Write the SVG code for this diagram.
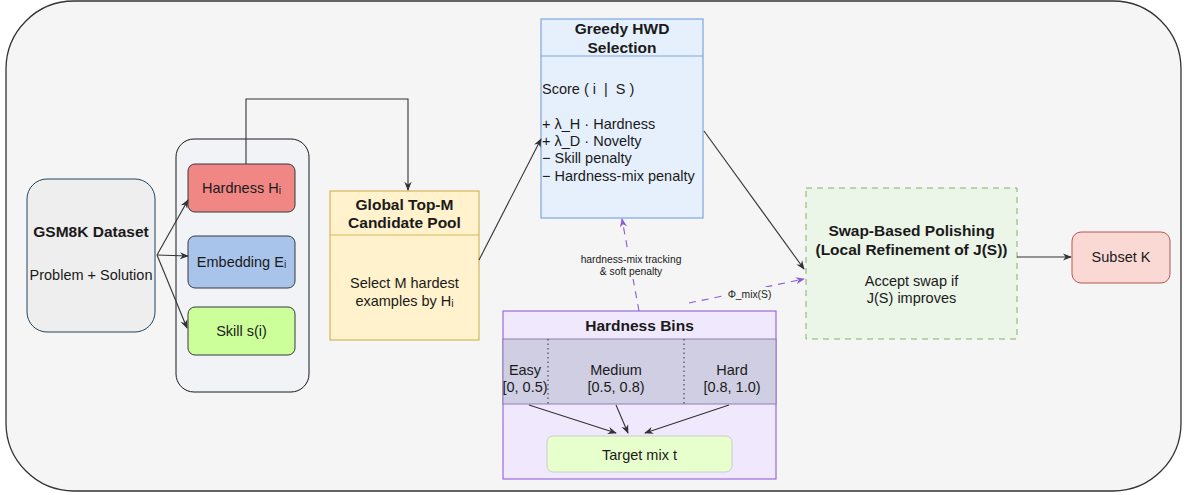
<svg xmlns="http://www.w3.org/2000/svg" width="1190" height="495" viewBox="0 0 1190 495">
<defs>
<marker id="ah" viewBox="0 0 10 10" refX="9" refY="5" markerWidth="9" markerHeight="9" markerUnits="userSpaceOnUse" orient="auto">
<path d="M0,1 L10,5 L0,9 L3,5 Z" fill="#333"/>
</marker>
<marker id="ahp" viewBox="0 0 10 10" refX="9" refY="5" markerWidth="9" markerHeight="9" markerUnits="userSpaceOnUse" orient="auto">
<path d="M0,1 L10,5 L0,9 L3,5 Z" fill="#8a5cd8"/>
</marker>
<style>
text{font-family:"Liberation Sans",Arial,sans-serif;fill:#1a1a1a;dominant-baseline:central}
.t13{font-size:14.5px}
.b14{font-size:15.5px;font-weight:bold}
.c{text-anchor:middle}
.conn{fill:none;stroke:#333;stroke-width:1.1;marker-end:url(#ah)}
.pd{fill:none;stroke:#8a5cd8;stroke-width:1.1;stroke-dasharray:7 6;marker-end:url(#ahp)}
.small{font-size:10.3px}
</style>
</defs>
<rect x="6" y="1" width="1175" height="490" rx="68" ry="68" fill="#f5f5f5" stroke="#333" stroke-width="1.3"/>

<g id="gsm8k">
<rect x="27" y="179" width="128" height="153" rx="20" fill="#eeeeee" stroke="#23445d" stroke-width="1"/>
<text class="b14 c" x="91" y="231">GSM8K Dataset</text>
<text class="t13 c" x="91" y="275">Problem + Solution</text>
</g>

<g id="features">
<rect x="176" y="139" width="133" height="253" rx="18" fill="#f2f3f6" stroke="#1a1a1a" stroke-width="1"/>
</g>
<g id="hardness">
<rect x="188" y="164" width="107" height="48" rx="7" fill="#f08784" stroke="#36393d" stroke-width="1"/>
<text class="t13 c" x="241.5" y="188">Hardness Hᵢ</text>
</g>
<g id="embedding">
<rect x="188" y="236" width="107" height="52" rx="7" fill="#a9c4eb" stroke="#36393d" stroke-width="1"/>
<text class="t13 c" x="241.5" y="262">Embedding Eᵢ</text>
</g>
<g id="skill">
<rect x="188" y="307" width="107" height="48" rx="7" fill="#ccff99" stroke="#36393d" stroke-width="1"/>
<text class="t13 c" x="241.5" y="331">Skill s(i)</text>
</g>

<g id="global-topm">
<rect x="330" y="191" width="149" height="149" fill="#fff2cc" stroke="#d6b656" stroke-width="1.2"/>
<line x1="330" y1="235" x2="479" y2="235" stroke="#d6b656" stroke-width="1.2"/>
<text class="b14 c" x="404.5" y="204">Global Top-M</text>
<text class="b14 c" x="404.5" y="222">Candidate Pool</text>
<text class="t13 c" x="404.5" y="283">Select M hardest</text>
<text class="t13 c" x="404.5" y="301">examples by Hᵢ</text>
</g>

<g id="greedy">
<rect x="541" y="19" width="162" height="199" fill="#e6f0fd" stroke="#7ea6e0" stroke-width="1.2"/>
<line x1="541" y1="56" x2="703" y2="56" stroke="#7ea6e0" stroke-width="1.2"/>
<text class="b14 c" x="622" y="28">Greedy HWD</text>
<text class="b14 c" x="622" y="47">Selection</text>
<text class="t13" x="542" y="89" xml:space="preserve">Score ( i  |  S )</text>
<text class="t13" x="542" y="124">+ λ_H · Hardness</text>
<text class="t13" x="542" y="141">+ λ_D · Novelty</text>
<text class="t13" x="542" y="158">− Skill penalty</text>
<text class="t13" x="542" y="176">− Hardness-mix penalty</text>
</g>

<g id="hardness-bins">
<rect x="503" y="311" width="273" height="168" fill="#f0e8fd" stroke="#9c6ade" stroke-width="1.2"/>
<rect x="503" y="339" width="273" height="65" fill="#d0cee2" stroke="#8d7fb8" stroke-width="1"/>
<line x1="548" y1="339" x2="548" y2="404" stroke="#333" stroke-width="1" stroke-dasharray="1.5 3"/>
<line x1="684" y1="339" x2="684" y2="404" stroke="#333" stroke-width="1" stroke-dasharray="1.5 3"/>
<text class="b14 c" x="639.5" y="325">Hardness Bins</text>
<text class="t13 c" x="525" y="370">Easy</text>
<text class="t13 c" x="525" y="387">[0, 0.5)</text>
<text class="t13 c" x="616" y="370">Medium</text>
<text class="t13 c" x="616" y="387">[0.5, 0.8)</text>
<text class="t13 c" x="732" y="370">Hard</text>
<text class="t13 c" x="732" y="387">[0.8, 1.0)</text>
</g>
<g id="target-mix">
<rect x="547" y="436" width="185" height="36" rx="6" fill="#e6ffcc" stroke="#cccccc" stroke-width="1"/>
<text class="t13 c" x="639.5" y="455">Target mix t</text>
</g>

<g id="swap">
<rect x="806" y="188" width="211" height="151" fill="#ebf5e8" stroke="#82b366" stroke-width="1" stroke-dasharray="6 5"/>
<text class="b14 c" x="911.5" y="230">Swap-Based Polishing</text>
<text class="b14 c" x="911.5" y="249">(Local Refinement of J(S))</text>
<text class="t13 c" x="911.5" y="281">Accept swap if</text>
<text class="t13 c" x="911.5" y="298">J(S) improves</text>
</g>

<g id="subset-k">
<rect x="1072" y="232" width="98" height="51" rx="9" fill="#fad9d5" stroke="#b85450" stroke-width="1"/>
<text class="t13 c" x="1121" y="257">Subset K</text>
</g>

<g id="connectors">
<line class="conn" x1="157" y1="255" x2="188" y2="200"/>
<line class="conn" x1="157" y1="255" x2="188" y2="256"/>
<line class="conn" x1="157" y1="255" x2="187" y2="328"/>
<polyline class="conn" points="246,164 246,99 408,99 408,190"/>
<line class="conn" x1="479" y1="260" x2="541" y2="139"/>
<line class="conn" x1="704" y1="131" x2="804" y2="269"/>
<line class="conn" x1="1017" y1="257" x2="1071" y2="257"/>
<line class="conn" x1="529" y1="405" x2="616" y2="433"/>
<line class="conn" x1="616" y1="405" x2="628" y2="433"/>
<line class="conn" x1="729" y1="405" x2="645" y2="433"/>
<line class="pd" x1="639" y1="311" x2="622" y2="219"/>
<rect x="574" y="251" width="114" height="28" fill="#f5f5f5"/>
<text class="small c" x="631" y="259">hardness-mix tracking</text>
<text class="small c" x="631" y="271">&amp; soft penalty</text>
<line class="pd" x1="689" y1="303" x2="804" y2="279"/>
<rect x="724" y="287" width="51" height="14" fill="#f5f5f5"/>
<text class="small c" x="749.5" y="294">Φ_mix(S)</text>
</g>
</svg>
